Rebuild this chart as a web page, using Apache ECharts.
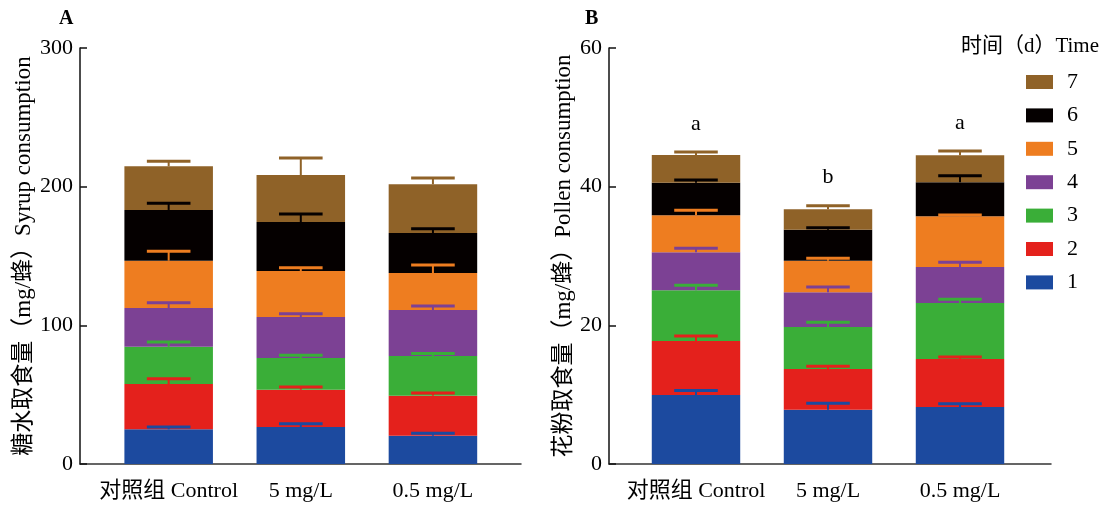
<!DOCTYPE html>
<html>
<head>
<meta charset="utf-8">
<script src="https://cdn.jsdelivr.net/npm/echarts@6/dist/echarts.min.js"></script>
<style>html,body{margin:0;padding:0;background:#fff}#c{width:1108px;height:508px}</style>
</head>
<body>
<div id="c"></div>
<script>
// ---- data ----
const categories = ['对照组 Control', '5 mg/L', '0.5 mg/L'];
const days = ['1', '2', '3', '4', '5', '6', '7'];
const syrupTicks = [0, 100, 200, 300];
const pollenTicks = [0, 20, 40, 60];

// per-day syrup consumption (stacked), mg/bee
const syrupControl = [25.0, 32.7, 26.9, 27.9, 34.1, 36.6, 31.5];
const syrup5 = [26.7, 26.9, 22.8, 29.6, 33.2, 35.3, 33.9];
const syrup05 = [20.4, 28.9, 28.6, 33.2, 26.6, 28.9, 35.1];
const syrupControlErr = [1.7, 3.8, 3.4, 3.8, 6.8, 4.8, 3.6];
const syrup5Err = [2.4, 1.9, 2.0, 2.4, 2.4, 5.8, 12.3];
const syrup05Err = [1.7, 1.9, 1.7, 2.8, 5.8, 3.1, 4.5];

// per-day pollen consumption (stacked), mg/bee
const pollenControl = [9.95, 7.79, 7.31, 5.48, 5.34, 4.71, 3.99];
const pollen5 = [7.84, 5.86, 6.06, 5.00, 4.57, 4.47, 2.93];
const pollen05 = [8.22, 6.92, 8.08, 5.19, 7.31, 4.91, 3.89];
const pollenControlErr = [0.65, 0.72, 0.72, 0.57, 0.73, 0.38, 0.43];
const pollen5Err = [0.91, 0.39, 0.67, 0.77, 0.33, 0.29, 0.53];
const pollen05Err = [0.48, 0.29, 0.53, 0.68, 0.18, 0.95, 0.62];
const pollenLetters = ['a', 'b', 'a'];

const dayColors = ['#1c4a9f', '#e4211c', '#3aae38', '#7c4194', '#ee7d20', '#050000', '#8f6228'];
const FONT = "'Liberation Serif','Noto Sans CJK SC',serif";

// ---- build ----
function buildPanel(groups, errs, barX, barY, letters) {
  const series = [];
  days.forEach((d, i) => {
    series.push({
      type: 'bar', name: d, stack: 'p' + barX, xAxisIndex: barX, yAxisIndex: barY,
      barWidth: '67%', data: groups.map(g => g[i]),
      itemStyle: { color: dayColors[i] }, z: 2
    });
  });
  const errData = [];
  groups.forEach((g, ci) => {
    let cum = 0;
    g.forEach((v, di) => { cum += v; errData.push([ci, cum, errs[ci][di], di]); });
  });
  series.push({
    type: 'custom', xAxisIndex: barX, yAxisIndex: barY, z: 5, silent: true,
    data: errData,
    renderItem: function (params, api) {
      const ci = api.value(0), top = api.value(1), e = api.value(2), di = api.value(3);
      const p0 = api.coord([ci, top]);
      const p1 = api.coord([ci, top + e]);
      const half = api.size([1, 0])[0] * 0.165;
      const col = dayColors[di];
      const children = [
        { type: 'line', shape: { x1: p0[0], y1: p0[1], x2: p1[0], y2: p1[1] }, style: { stroke: col, lineWidth: 2 } },
        { type: 'line', shape: { x1: p1[0] - half, y1: p1[1], x2: p1[0] + half, y2: p1[1] }, style: { stroke: col, lineWidth: 3 } }
      ];
      if (letters && di === days.length - 1) {
        children.push({ type: 'text', x: p1[0], y: p1[1] - 17,
          style: { text: letters[ci], fill: '#000', font: '22px ' + FONT, align: 'center', verticalAlign: 'bottom' } });
      }
      return { type: 'group', children: children };
    }
  });
  return series;
}

const series = [].concat(
  buildPanel([syrupControl, syrup5, syrup05], [syrupControlErr, syrup5Err, syrup05Err], 1, 1, null),
  buildPanel([pollenControl, pollen5, pollen05], [pollenControlErr, pollen5Err, pollen05Err], 3, 3, pollenLetters)
);

function axisGridX(gi) {
  return { gridIndex: gi, type: 'value', min: 0, max: 1,
    axisLine: { show: true, onZero: false, lineStyle: { color: '#333', width: 1.5 } },
    axisTick: { show: false }, axisLabel: { show: false }, splitLine: { show: false } };
}
function axisGridY(gi, ticks, name, gap) {
  return { gridIndex: gi, type: 'value', min: ticks[0], max: ticks[ticks.length - 1], interval: ticks[1] - ticks[0],
    name: name, nameLocation: 'middle', nameGap: gap,
    nameTextStyle: { fontFamily: FONT, fontSize: 23, color: '#000' },
    axisLine: { show: true, lineStyle: { color: '#111', width: 1.5 } },
    axisTick: { show: true, inside: true, length: 7, lineStyle: { color: '#111', width: 1.5 } },
    axisLabel: { fontFamily: FONT, fontSize: 22, color: '#000', margin: 7 },
    splitLine: { show: false } };
}
function barGridX(gi) {
  return { gridIndex: gi, type: 'category', data: categories,
    axisLine: { show: false },
    axisTick: { show: true, inside: true, length: 9, alignWithLabel: true, lineStyle: { color: '#111', width: 1.5 } },
    axisLabel: { fontFamily: FONT, fontSize: 22, color: '#000', margin: 16, interval: 0 } };
}
function barGridY(gi, ticks) {
  return { gridIndex: gi, type: 'value', min: ticks[0], max: ticks[ticks.length - 1], show: false, splitLine: { show: false } };
}

const option = {
  animation: false,
  backgroundColor: '#fff',
  title: [
    { text: 'A', left: 59, top: 9, padding: 0, textStyle: { fontFamily: FONT, fontSize: 20, fontWeight: 'bold', color: '#000' } },
    { text: 'B', left: 585, top: 9, padding: 0, textStyle: { fontFamily: FONT, fontSize: 20, fontWeight: 'bold', color: '#000' } },
    { text: '时间（d）Time', right: 9, top: 36, padding: 0, textStyle: { fontFamily: FONT, fontSize: 21, fontWeight: 'normal', color: '#000' } }
  ],
  legend: {
    orient: 'vertical', left: 1026, top: 71, padding: 0,
    data: days.slice().reverse(),
    itemWidth: 27, itemHeight: 14, itemGap: 11.4, icon: 'rect',
    textStyle: { fontFamily: FONT, fontSize: 22, lineHeight: 22, color: '#000', padding: [0, 0, 0, 9] }
  },
  grid: [
    { left: 80, top: 48, width: 441, height: 416 },
    { left: 102.6, top: 48, width: 396.4, height: 416 },
    { left: 609, top: 48, width: 442, height: 416 },
    { left: 630, top: 48, width: 396, height: 416 }
  ],
  xAxis: [axisGridX(0), barGridX(1), axisGridX(2), barGridX(3)],
  yAxis: [
    axisGridY(0, syrupTicks, '糖水取食量（mg/蜂）Syrup consumption', 45),
    barGridY(1, syrupTicks),
    axisGridY(2, pollenTicks, '花粉取食量（mg/蜂）Pollen consumption', 34),
    barGridY(3, pollenTicks)
  ],
  series: series
};

const chart = echarts.init(document.getElementById('c'), null, { renderer: 'canvas' });
chart.setOption(option);
</script>
</body>
</html>
